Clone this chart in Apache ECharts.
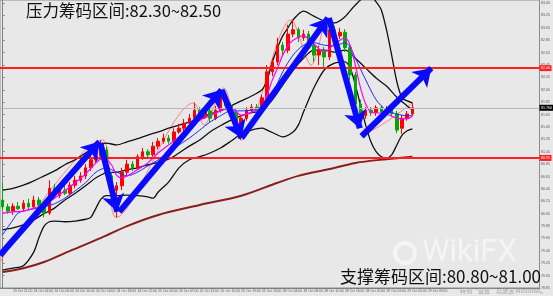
<!DOCTYPE html>
<html><head><meta charset="utf-8">
<script src="https://cdn.jsdelivr.net/npm/echarts@6/dist/echarts.min.js"></script>
<style>html,body{margin:0;padding:0;background:#e8e8e8;}#c{width:553px;height:296px;}</style>
</head><body><div id="c"></div>
<script>
// ---------- data ----------
const SLOTS = 104;               // hourly slots on the time axis (incl. empty right margin)
const tradingDays = [23, 24, 25, 28, 29, 30, 31];
const categories = (function () {
  const out = []; let di = 0, hour = 19;
  while (out.length < SLOTS) {
    out.push(tradingDays[di] + ' Oct ' + String(hour).padStart(2, '0') + ':00');
    hour++; if (hour === 24) { di++; hour = 1; }
  }
  return out;
})();

// [open, close, low, high]
const candles = [
[80.27,80.16,80.11,80.55],[80.16,80.09,80.05,80.21],[80.09,80.17,80.03,80.22],[80.17,80.13,80.11,80.24],
[80.13,80.22,80.09,80.27],[80.22,80.16,80.11,80.29],[80.16,80.27,80.13,80.34],[80.27,80.19,80.14,80.32],
[80.19,80.06,79.99,80.24],[80.06,80.46,80.03,80.59],[80.46,80.34,80.29,80.53],[80.34,80.43,80.30,80.48],
[80.43,80.38,80.35,80.50],[80.38,80.51,80.35,80.56],[80.51,80.59,80.46,80.66],[80.59,80.66,80.55,80.72],
[80.66,80.79,80.61,80.85],[80.79,80.92,80.74,80.98],[80.92,80.98,80.87,81.08],[80.98,81.08,80.95,81.24],
[81.08,80.66,80.59,81.13],[80.66,80.43,80.35,80.72],[80.43,80.50,79.99,80.56],[80.50,80.72,80.43,80.79],
[80.72,80.85,80.66,80.92],[80.85,80.79,80.74,80.90],[80.79,80.97,80.76,81.01],[80.97,81.05,80.92,81.11],
[81.05,81.00,80.95,81.09],[81.00,81.14,80.97,81.21],[81.14,81.22,81.09,81.27],[81.22,81.27,81.18,81.34],
[81.27,81.22,81.18,81.32],[81.22,81.37,81.19,81.43],[81.37,81.43,81.34,81.50],[81.43,81.51,81.38,81.58],
[81.51,81.59,81.47,81.66],[81.59,81.72,81.56,81.84],[81.72,81.63,81.56,81.77],[81.63,81.71,81.58,81.76],
[81.71,81.59,81.53,81.76],[81.59,81.72,81.56,81.79],[81.72,81.97,81.68,82.05],[81.97,81.79,81.72,82.01],
[81.79,81.69,81.63,81.84],[81.69,81.47,81.40,81.74],[81.47,81.59,81.24,81.64],[81.59,81.72,81.55,81.77],
[81.72,81.77,81.68,81.82],[81.77,81.71,81.66,81.82],[81.71,81.92,81.68,81.97],[81.92,82.34,81.89,82.45],
[82.34,82.50,82.27,82.56],[82.50,82.77,82.45,82.89],[82.77,82.69,82.60,82.82],[82.69,82.95,82.64,83.10],
[82.95,83.02,82.90,83.18],[83.02,82.89,82.82,83.06],[82.89,82.95,82.84,83.02],[82.95,82.77,82.73,83.00],
[82.77,82.61,82.50,82.82],[82.61,82.69,82.45,82.76],[82.69,82.58,82.42,82.74],[82.58,83.02,82.53,83.18],
[83.02,82.92,82.85,83.08],[82.92,82.98,82.87,83.05],[82.98,82.73,82.66,83.03],[82.73,82.29,82.21,82.77],
[82.29,81.82,81.69,82.34],[81.82,81.63,81.48,81.89],[81.63,81.72,81.58,81.77],[81.72,81.68,81.63,81.77],
[81.68,81.76,81.63,81.80],[81.76,81.69,81.64,81.80],[81.69,81.74,81.66,81.79],[81.74,81.66,81.61,81.79],
[81.66,81.40,81.35,81.71],[81.43,81.59,81.34,81.64],[81.59,81.66,81.55,81.71],[81.66,81.76,81.63,81.84]
];

// indicator lines: [bar index, value]
const bollUpper = [[0,80.43],[2,80.46],[4,80.51],[6,80.58],[8,80.66],[10,80.74],[12,80.84],[14,80.92],[16,81.03],[18,81.13],[20,81.19],[22,81.16],[24,81.21],[26,81.26],[28,81.32],[30,81.37],[32,81.43],[34,81.48],[36,81.53],[38,81.58],[40,81.66],[42,81.71],[44,81.79],[46,81.87],[48,81.95],[50,82.05],[51,82.21],[52,82.50],[53,82.73],[54,82.92],[55,83.05],[56,83.18],[58,83.32],[60,83.24],[62,83.16],[64,83.13],[66,83.23],[68,83.42],[70,83.55],[71,83.55],[72,83.47],[73,83.34],[74,83.02],[75,82.61],[76,82.18],[77,81.92],[78,81.87],[79,81.84]];
const bollMiddle = [[0,79.79],[2,79.82],[4,79.87],[6,79.95],[8,80.05],[10,80.14],[12,80.27],[14,80.38],[16,80.50],[18,80.63],[20,80.71],[22,80.72],[24,80.76],[26,80.79],[28,80.84],[30,80.88],[32,80.93],[34,81.03],[36,81.14],[38,81.24],[40,81.37],[42,81.47],[44,81.56],[46,81.63],[48,81.68],[50,81.72],[52,81.89],[54,82.13],[56,82.37],[58,82.56],[60,82.69],[62,82.69],[64,82.66],[66,82.69],[68,82.56],[70,82.40],[72,82.24],[74,82.11],[76,81.93],[78,81.79],[79,81.72]];
const bollLower = [[0,79.14],[2,79.17],[4,79.21],[6,79.43],[7,79.66],[8,79.85],[9,79.92],[10,79.93],[12,79.92],[14,79.93],[16,79.96],[17,79.99],[18,80.14],[19,80.29],[20,80.34],[22,80.34],[24,80.35],[26,80.34],[28,80.32],[29,80.30],[30,80.40],[32,80.56],[34,80.79],[36,80.92],[38,80.97],[40,81.03],[42,81.11],[44,81.22],[46,81.34],[48,81.40],[50,81.43],[51,81.40],[53,81.32],[54,81.29],[56,81.37],[57,81.48],[58,81.69],[59,81.89],[60,82.08],[62,82.37],[64,82.48],[66,82.50],[67,82.40],[68,82.13],[69,81.80],[70,81.48],[71,81.21],[72,81.05],[73,80.97],[74,80.95],[75,81.00],[76,81.16],[77,81.32],[78,81.39],[79,81.42]];
const maFast = [[0,80.06],[2,80.08],[4,80.09],[6,80.14],[8,80.19],[10,80.30],[12,80.42],[14,80.55],[16,80.69],[18,80.87],[19,80.93],[20,80.92],[21,80.84],[22,80.67],[23,80.63],[24,80.66],[26,80.76],[28,80.87],[30,81.03],[32,81.16],[34,81.29],[36,81.43],[38,81.56],[40,81.63],[42,81.71],[44,81.76],[46,81.64],[48,81.69],[50,81.79],[51,81.97],[52,82.21],[53,82.40],[54,82.61],[55,82.76],[56,82.85],[58,82.92],[60,82.79],[62,82.66],[64,82.79],[66,82.89],[67,82.77],[68,82.45],[69,82.08],[70,81.82],[71,81.69],[72,81.68],[74,81.66],[76,81.59],[78,81.58],[79,81.63]];
const maMid = [[0,79.71],[2,79.95],[3,80.06],[5,80.11],[8,80.16],[10,80.21],[12,80.30],[14,80.42],[16,80.55],[18,80.72],[20,80.79],[22,80.72],[24,80.66],[26,80.72],[28,80.82],[30,80.92],[32,81.05],[34,81.16],[36,81.27],[38,81.40],[40,81.53],[42,81.63],[44,81.71],[46,81.71],[48,81.72],[50,81.76],[52,81.98],[54,82.34],[56,82.61],[58,82.77],[60,82.81],[62,82.77],[64,82.76],[66,82.81],[67,82.74],[68,82.56],[70,82.21],[72,81.89],[74,81.72],[76,81.66],[78,81.63],[79,81.64]];
const maLong = [[0,79.11],[4,79.17],[8,79.27],[13,79.45],[19,79.66],[24,79.85],[30,80.03],[38,80.19],[46,80.34],[53,80.55],[57,80.66],[63,80.77],[68,80.87],[74,80.93],[79,80.97]];
const zigzag = [[-0.5,79.27],[19.2,81.24],[21.9,79.99],[36.9,81.84],[38.8,81.48],[42.6,82.08],[46.05,81.24],[55.6,83.18],[59.5,82.45],[62.7,83.21],[70.5,81.38],[79,81.84]];

// hand-drawn arrows: [from, to] in [bar index, value]
const arrows = [
  [[-0.5,79.38],[18.66,81.21]],
  [[18.85,81.19],[22.1,80.08]],
  [[22.49,80.08],[42.22,82.05]],
  [[42.22,82.05],[46.05,81.27]],
  [[46.05,81.27],[62.72,83.21]],
  [[62.9,83.21],[68.85,81.43]],
  [[69.2,81.30],[82.64,82.40]]
];
const resistanceLevel = 82.40, supportLevel = 80.95, lastPrice = 81.76;
const topText = '压力筹码区间:82.30~82.50';
const bottomText = '支撑筹码区间:80.80~81.00';

// ---------- chart ----------
const chart = echarts.init(document.getElementById('c'), null, {renderer: 'canvas'});
const lineS = (data, color, width, z) => ({
  type: 'line', xAxisIndex: 1, data, smooth: 0.3, showSymbol: false, silent: true,
  lineStyle: {color, width}, z
});
chart.setOption({
  animation: false,
  backgroundColor: '#e8e8e8',
  grid: {left: 0, right: 10, top: 0, bottom: 8, show: true, borderColor: '#8c8c8c', borderWidth: 1, backgroundColor: '#e8e8e8'},
  xAxis: [{
    type: 'category', data: categories, boundaryGap: true,
    axisLine: {lineStyle: {color: '#808080'}},
    axisTick: {length: 2, interval: (i) => i % 4 === 2 && i <= 82, lineStyle: {color: '#808080'}},
    axisLabel: {fontSize: 3.4, color: '#555', margin: 1.5, align: 'left',
      interval: (i) => i % 4 === 2 && i <= 82},
    splitLine: {show: false}
  }, {
    type: 'value', min: -0.5, max: SLOTS - 0.5, show: false
  }],
  yAxis: {
    type: 'value', position: 'right', min: 78.85, max: 83.5, interval: 0.2,
    axisLine: {show: true, lineStyle: {color: '#808080'}},
    axisTick: {show: true, length: 2, lineStyle: {color: '#808080'}},
    axisLabel: {fontSize: 3.6, color: '#555', margin: 1.5, showMaxLabel: false,
      formatter: (v) => v.toFixed(2)},
    splitLine: {show: false}
  },
  series: [
    lineS(zigzag, 'rgba(250,110,110,0.85)', 1, 1),
    lineS(bollUpper, '#111', 1.3, 2),
    lineS(bollMiddle, '#111', 1.3, 2),
    lineS(bollLower, '#111', 1.3, 2),
    lineS(maLong, '#8b1c1c', 2, 2),
    {
      type: 'candlestick', data: candles, barWidth: 3, z: 3, silent: true,
      itemStyle: {color: '#ff0000', color0: '#00a800', borderColor: '#ff0000', borderColor0: '#00a800', borderWidth: 1},
      markLine: {
        silent: true, symbol: ['none', 'none'], z: 5,
        data: [
          {yAxis: resistanceLevel, lineStyle: {color: '#ff1f1f', width: 2, type: 'solid'},
           label: {position: 'end', formatter: resistanceLevel.toFixed(2), backgroundColor: '#ff1f1f', color: '#fff', fontSize: 3.6, padding: [1, 1.5], distance: 0}},
          {yAxis: supportLevel, lineStyle: {color: '#ff1f1f', width: 2, type: 'solid'},
           label: {position: 'end', formatter: supportLevel.toFixed(2), backgroundColor: '#ff1f1f', color: '#fff', fontSize: 3.6, padding: [1, 1.5], distance: 0}},
          {yAxis: lastPrice, lineStyle: {color: '#b4b8c4', width: 1, type: 'solid'},
           label: {position: 'end', formatter: lastPrice.toFixed(3), backgroundColor: '#000', color: '#fff', fontSize: 3.6, padding: [1, 1.5], distance: 0}}
        ]
      }
    },
    lineS(maMid, '#1f2bff', 1, 4),
    lineS(maFast, '#ff00ff', 1.2, 4),
    {
      type: 'lines', coordinateSystem: 'cartesian2d', xAxisIndex: 1, yAxisIndex: 0, z: 10, silent: true,
      symbol: ['none', 'arrow'], symbolSize: 17,
      lineStyle: {color: '#0a0aff', width: 6, opacity: 1, curveness: 0},
      data: arrows.map(a => ({coords: a}))
    }
  ],
  graphic: [
    {type: 'text', left: 26, top: 2, z: 20, style: {text: topText, fontSize: 16.5, fontFamily: '"Noto Sans CJK SC", sans-serif', fill: '#111'}},
    {type: 'circle', shape: {cx: 405, cy: 253, r: 10}, z: 15, style: {fill: 'none', stroke: 'rgba(255,255,255,0.55)', lineWidth: 4}},
    {type: 'text', left: 422, top: 238, z: 15, style: {text: 'WikiFX', fontSize: 31, fontFamily: 'Roboto, sans-serif', fill: 'rgba(255,255,255,0.55)'}},
    {type: 'text', right: 12, top: 268, z: 20, style: {text: bottomText, fontSize: 17, fontFamily: '"Noto Sans CJK SC", sans-serif', fill: '#111'}},
    {type: 'text', left: 460, top: 288, z: 16, style: {text: '转到“设置”以激活 Windows。', fontSize: 6, fontFamily: '"Noto Sans CJK SC", sans-serif', fill: '#a0a0a0'}}
  ]
});
</script>
</body></html>
